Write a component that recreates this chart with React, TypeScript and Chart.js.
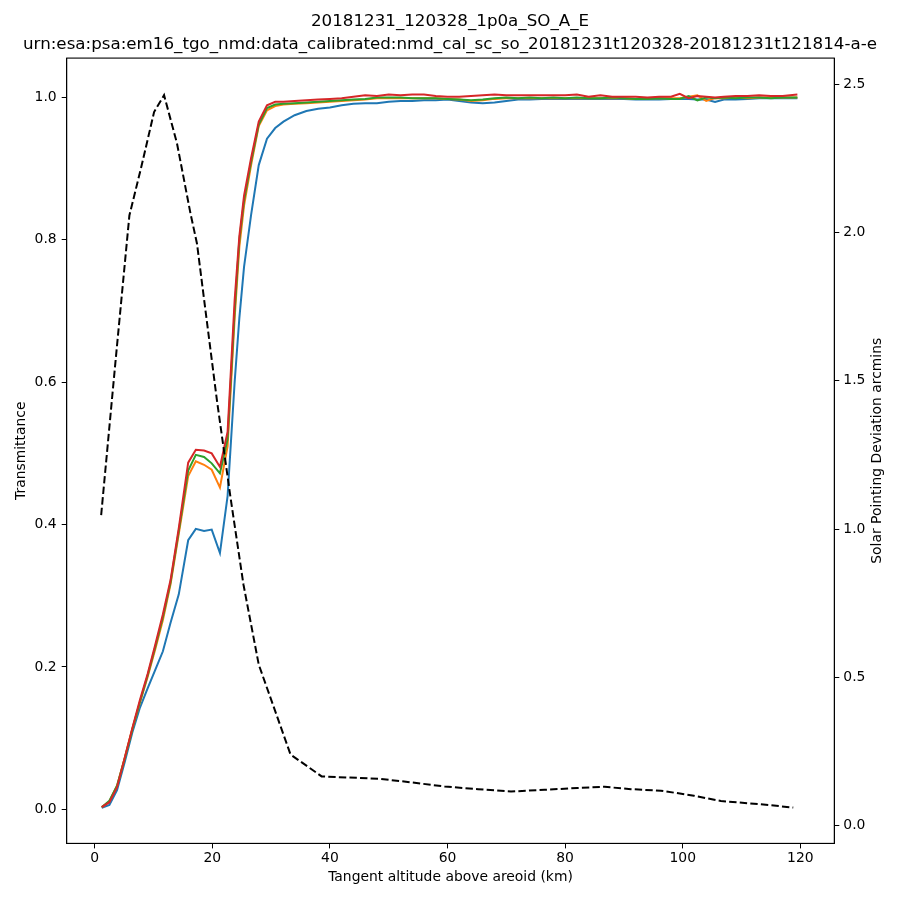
import { useEffect, useRef } from "react";
import { Chart, registerables } from "chart.js";

Chart.register(...registerables);

const FONT = "DejaVu Sans";

// tangent altitudes (km) shared by the four spectral bins
const altitudes = [
  1.2, 2.5, 3.8, 5.1, 6.4, 7.7, 9.0, 10.3, 11.6, 12.9,
  14.3, 15.9, 17.2, 18.6, 19.9, 21.3, 22.6, 23.8, 24.6, 25.4,
  26.6, 27.9, 29.3, 30.7, 32.1, 34, 36, 38, 40, 42,
  44, 46, 48, 50, 52, 54, 56, 58, 60, 62,
  64, 66, 68, 70, 72, 74, 76, 78, 80, 82,
  84, 86, 88, 90, 92, 94, 96, 98, 99.5, 101,
  102.5, 104, 105.5, 107, 109, 111, 113, 115, 117, 119.5,
];

const transBlue = [
  0.002, 0.006, 0.027, 0.066, 0.108, 0.143, 0.17, 0.196, 0.222, 0.262,
  0.302, 0.378, 0.394, 0.391, 0.393, 0.36, 0.44, 0.6, 0.69, 0.762,
  0.835, 0.905, 0.942, 0.957, 0.966, 0.975, 0.981, 0.984, 0.986, 0.989,
  0.991, 0.992, 0.992, 0.994, 0.995, 0.995, 0.996, 0.996, 0.997, 0.995,
  0.993, 0.992, 0.993, 0.995, 0.997, 0.997, 0.998, 0.998, 0.998, 0.998,
  0.998, 0.998, 0.998, 0.998, 0.997, 0.997, 0.997, 0.998, 0.998, 0.998,
  0.997, 0.997, 0.9935, 0.997, 0.997, 0.998, 0.999, 0.999, 0.999, 0.999,
];

const transOrange = [
  0.003, 0.011, 0.033, 0.072, 0.113, 0.15, 0.186, 0.225, 0.266, 0.316,
  0.387, 0.468, 0.489, 0.484, 0.477, 0.452, 0.51, 0.69, 0.79, 0.848,
  0.905, 0.96, 0.982, 0.988, 0.99, 0.991, 0.992, 0.993, 0.994, 0.995,
  0.996, 0.997, 0.999, 0.999, 0.999, 0.999, 0.999, 0.999, 0.998, 0.997,
  0.995, 0.996, 0.998, 0.999, 0.999, 0.999, 0.999, 0.999, 0.999, 0.999,
  0.999, 0.999, 0.999, 0.999, 0.998, 0.999, 0.999, 0.999, 0.999, 1.001,
  1.003, 0.995, 0.999, 0.999, 1.0, 0.999, 1.0, 1.0, 1.0, 1.0,
];

const transGreen = [
  0.003, 0.012, 0.033, 0.071, 0.112, 0.151, 0.188, 0.228, 0.27, 0.319,
  0.391, 0.476, 0.498, 0.495, 0.486, 0.472, 0.52, 0.7, 0.8, 0.855,
  0.91, 0.962, 0.985, 0.99, 0.991, 0.992, 0.993, 0.994, 0.995, 0.996,
  0.997, 0.998, 1.0, 1.0, 1.0, 0.999, 0.999, 0.999, 0.998, 0.997,
  0.996, 0.997, 0.999, 1.0, 0.999, 1.0, 0.999, 1.0, 0.999, 1.0,
  0.999, 0.999, 1.0, 0.999, 0.998, 0.998, 0.999, 0.998, 0.998, 1.002,
  0.996, 1.0, 0.999, 1.0, 0.999, 1.0, 1.0, 0.999, 1.0, 1.0,
];

const transRed = [
  0.003, 0.01, 0.031, 0.072, 0.114, 0.154, 0.19, 0.231, 0.274, 0.322,
  0.395, 0.487, 0.505, 0.504, 0.5, 0.481, 0.53, 0.715, 0.805, 0.862,
  0.915, 0.966, 0.989, 0.994, 0.994, 0.995, 0.996, 0.997, 0.998, 0.999,
  1.001, 1.003, 1.002, 1.004, 1.003, 1.004, 1.004, 1.002, 1.001, 1.001,
  1.002, 1.003, 1.004, 1.003, 1.003, 1.003, 1.003, 1.003, 1.003, 1.004,
  1.001, 1.003, 1.001, 1.001, 1.001, 1.0, 1.001, 1.001, 1.005, 0.999,
  1.002, 1.001, 1.0, 1.001, 1.002, 1.002, 1.003, 1.002, 1.002, 1.004,
];

// solar pointing deviation (arcmins), right axis
const pointingAlt = [
  1.1, 3.5, 5.9, 8.0, 10.1, 11.8, 14.0, 16.3, 17.4, 20.8,
  23.1, 25.3, 27.9, 33.3, 38.6, 48.5, 53.8, 59.5, 65.2, 70.8,
  76.5, 82.1, 86.7, 91.2, 96.3, 101.9, 106.5, 113.3, 118.8,
];
const pointingDev = [
  1.047, 1.557, 2.057, 2.227, 2.406, 2.463, 2.3, 2.063, 1.962, 1.432,
  1.106, 0.813, 0.543, 0.24, 0.166, 0.158, 0.146, 0.132, 0.123, 0.115,
  0.121, 0.127, 0.131, 0.123, 0.118, 0.101, 0.083, 0.072, 0.061,
];

const xTicks = [0, 20, 40, 60, 80, 100, 120];
const transTicks = [0, 0.2, 0.4, 0.6, 0.8, 1.0];
const devTicks = [0, 0.5, 1.0, 1.5, 2.0, 2.5];

const titleLines = [
  "20181231_120328_1p0a_SO_A_E",
  "urn:esa:psa:em16_tgo_nmd:data_calibrated:nmd_cal_sc_so_20181231t120328-20181231t121814-a-e",
];

const pairs = (xs: number[], ys: number[]) => xs.map((x, i) => ({ x, y: ys[i] }));

// full box around the axes + right-hand label reading bottom to top (like matplotlib)
const framePlugin = {
  id: "frame",
  afterDraw(chart: Chart) {
    const { ctx, chartArea } = chart;
    const { left, top, right, bottom } = chartArea;
    ctx.save();
    ctx.strokeStyle = "#000";
    ctx.lineWidth = 1.1;
    ctx.strokeRect(left, top, right - left, bottom - top);
    ctx.translate(877, (top + bottom) / 2);
    ctx.rotate(-Math.PI / 2);
    ctx.fillStyle = "#000";
    ctx.font = `13.9px "${FONT}"`;
    ctx.textAlign = "center";
    ctx.textBaseline = "middle";
    ctx.fillText("Solar Pointing Deviation arcmins", 0, 0);
    ctx.restore();
  },
};

export default function App() {
  const chartRef = useRef<HTMLCanvasElement>(null);
  const chartInstance = useRef<Chart | null>(null);

  useEffect(() => {
    if (!chartRef.current) return;
    document.body.style.margin = "0";

    if (chartInstance.current) {
      chartInstance.current.destroy();
    }

    const ctx = chartRef.current.getContext("2d");
    if (!ctx) return;

    const tickFont = { family: FONT, size: 13.9 };
    const line = (data: number[], color: string, order: number) => ({
      data: pairs(altitudes, data),
      borderColor: color,
      backgroundColor: color,
      borderWidth: 2,
      pointRadius: 0,
      tension: 0,
      fill: false,
      yAxisID: "y",
      order,
    });

    chartInstance.current = new Chart(ctx, {
      type: "line",
      data: {
        datasets: [
          line(transBlue, "#1f77b4", 5),
          line(transOrange, "#ff7f0e", 4),
          line(transGreen, "#2ca02c", 3),
          line(transRed, "#d62728", 2),
          {
            data: pairs(pointingAlt, pointingDev),
            borderColor: "#000",
            backgroundColor: "#000",
            borderWidth: 2,
            borderDash: [7.4, 3.2],
            pointRadius: 0,
            tension: 0,
            fill: false,
            yAxisID: "y1",
            order: 1,
          },
        ],
      },
      options: {
        responsive: true,
        maintainAspectRatio: false,
        animation: false,
        layout: { padding: 0 },
        scales: {
          x: {
            type: "linear",
            min: -4.76,
            max: 125.78,
            afterFit: (scale: any) => {
              scale.height = 56.6;
            },
            afterBuildTicks: (scale: any) => {
              scale.ticks = xTicks.map((v) => ({ value: v }));
            },
            ticks: {
              font: tickFont,
              color: "#000",
              padding: 2,
              maxRotation: 0,
              autoSkip: false,
              callback: (v: any) => String(v),
            },
            grid: {
              drawOnChartArea: false,
              drawTicks: true,
              tickLength: 5,
              tickColor: "#000",
            },
            border: { display: true, color: "#000", width: 1 },
            title: {
              display: true,
              text: "Tangent altitude above areoid (km)",
              font: tickFont,
              color: "#000",
              padding: { top: 0, bottom: 14.7 },
            },
          },
          y: {
            type: "linear",
            position: "left",
            min: -0.0479,
            max: 1.0553,
            afterFit: (scale: any) => {
              scale.width = 66.7;
            },
            afterBuildTicks: (scale: any) => {
              scale.ticks = transTicks.map((v) => ({ value: v }));
            },
            ticks: {
              font: tickFont,
              color: "#000",
              padding: 5,
              autoSkip: false,
              callback: (v: any) => Number(v).toFixed(1),
            },
            grid: {
              drawOnChartArea: false,
              drawTicks: true,
              tickLength: 5,
              tickColor: "#000",
            },
            border: { display: true, color: "#000", width: 1 },
            title: {
              display: true,
              text: "Transmittance",
              font: tickFont,
              color: "#000",
              padding: { top: 12.7, bottom: 0 },
            },
          },
          y1: {
            type: "linear",
            position: "right",
            min: -0.0598,
            max: 2.5878,
            afterFit: (scale: any) => {
              scale.width = 65.7;
            },
            afterBuildTicks: (scale: any) => {
              scale.ticks = devTicks.map((v) => ({ value: v }));
            },
            ticks: {
              font: tickFont,
              color: "#000",
              padding: 4,
              autoSkip: false,
              callback: (v: any) => Number(v).toFixed(1),
            },
            grid: {
              drawOnChartArea: false,
              drawTicks: true,
              tickLength: 5,
              tickColor: "#000",
            },
            border: { display: true, color: "#000", width: 1 },
          },
        },
        plugins: {
          legend: { display: false },
          tooltip: { enabled: false },
          title: {
            display: true,
            text: titleLines,
            color: "#000",
            font: { family: FONT, size: 16.7, weight: "normal", lineHeight: 1.38 },
            padding: { top: 10.5, bottom: 1.5 },
          },
        },
      },
      plugins: [framePlugin],
    });

    return () => {
      if (chartInstance.current) {
        chartInstance.current.destroy();
        chartInstance.current = null;
      }
    };
  }, []);

  return (
    <div style={{ position: "absolute", left: 0, top: 0, width: 900, height: 900 }}>
      <canvas ref={chartRef} />
    </div>
  );
}
